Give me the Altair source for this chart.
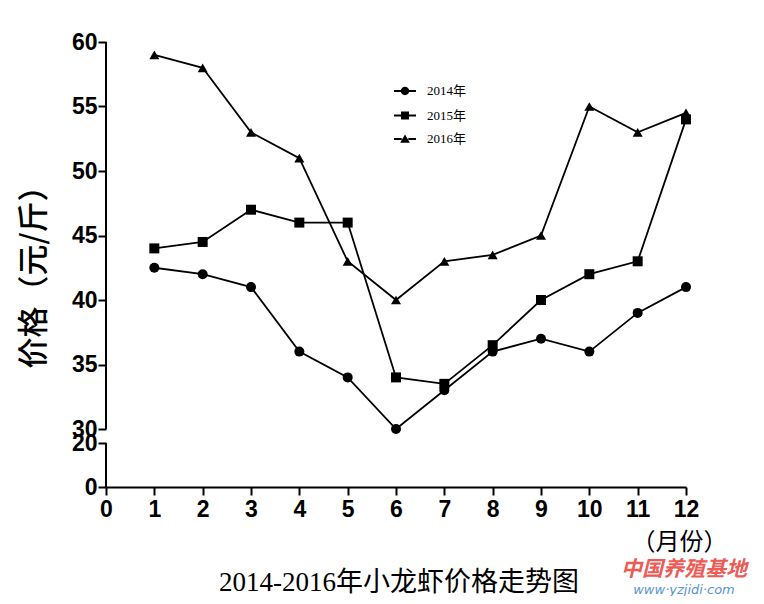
import altair as alt
import pandas as pd

months = list(range(1, 13))
years = ["2014年", "2015年", "2016年"]
price_2014 = [42.5, 42, 41, 36, 34, 30, 33, 36, 37, 36, 39, 41]
price_2015 = [44, 44.5, 47, 46, 46, 34, 33.5, 36.5, 40, 42, 43, 54]
price_2016 = [59, 58, 53, 51, 43, 40, 43, 43.5, 45, 55, 53, 54.5]
y_ticks = [0, 20, 30, 35, 40, 45, 50, 55, 60]
x_ticks = list(range(0, 13))
marker_shapes = ["circle", "square", "triangle-up"]

rows = []
for yr, vals in zip(years, [price_2014, price_2015, price_2016]):
    for m, v in zip(months, vals):
        rows.append({"month": m, "price": v, "year": yr})
df = pd.DataFrame(rows)

segs = pd.DataFrame({"lo": [30, 0], "hi": [60, 20]})

W, H = 580, 445
yscale = alt.Scale(domain=[0, 20, 30, 60], range=[H, H - 44, H - 58, 0], nice=False, zero=False)
xscale = alt.Scale(domain=[0, 12], nice=False, zero=False)

serif_cjk = "'Liberation Serif', 'Noto Sans CJK SC'"

xaxis = alt.Axis(
    values=x_ticks, title="（月份）", titleFont=serif_cjk, titleFontSize=24,
    titleFontWeight="normal", titleX=573, titleY=55, titleAlign="center",
    titleBaseline="middle", titleColor="black",
    labelFont="Liberation Sans", labelFontSize=23, labelFontWeight="bold",
    labelColor="black", labelPadding=3, labelFlush=False, labelOverlap=False,
    tickSize=8, tickWidth=2, tickColor="black", domainColor="black",
    domainWidth=2, grid=False,
)
yaxis = alt.Axis(
    values=y_ticks, title="价格（元/斤）", titleFont="Noto Sans CJK SC",
    titleFontSize=31, titleFontWeight=500, titleColor="black",
    titleX=-72, titleY=227, titleAngle=-90, titleAlign="center",
    titleBaseline="middle",
    labelFont="Liberation Sans", labelFontSize=23, labelFontWeight="bold",
    labelColor="black", labelPadding=1, labelFlush=False, labelOverlap=False,
    tickSize=8, tickWidth=2, tickColor="black", domain=False, grid=False,
)

base = alt.Chart(df)

lines = base.mark_line(color="black", strokeWidth=1.8).encode(
    x=alt.X("month:Q", scale=xscale, axis=xaxis),
    y=alt.Y("price:Q", scale=yscale, axis=yaxis),
    detail="year:N",
)

point_layers = []
for yr, shp in zip(years, marker_shapes):
    point_layers.append(
        base.transform_filter(alt.datum.year == yr)
        .mark_point(filled=True, opacity=1, color="black", size=100, shape=shp)
        .encode(x=alt.X("month:Q", scale=xscale), y=alt.Y("price:Q", scale=yscale))
    )

# legend glyphs: short line stubs either side of the marker (filled, so no stroke needed)
stubs = "M-1,-0.09H-0.3V0.09H-1ZM0.3,-0.09H1V0.09H0.3Z"
leg_shapes = [
    stubs + "M0.38,0A0.38,0.38,0,1,1,-0.38,0A0.38,0.38,0,1,1,0.38,0Z",
    stubs + "M-0.36,-0.36H0.36V0.36H-0.36Z",
    stubs + "M0,-0.42L0.44,0.34H-0.44Z",
]
legend_layer = base.mark_point(filled=True, opacity=1, color="black").encode(
    x=alt.X("month:Q", scale=xscale),
    y=alt.Y("price:Q", scale=yscale),
    shape=alt.Shape(
        "year:N",
        scale=alt.Scale(domain=years, range=leg_shapes),
        legend=alt.Legend(
            title=None, orient="none", legendX=287, legendY=37,
            symbolSize=484, symbolFillColor="black",
            labelFont=serif_cjk, labelFontSize=13,
            labelColor="black", labelOffset=10, rowPadding=4.5, padding=0,
        ),
    ),
).transform_filter("false")

axis_line = alt.Chart(segs).mark_rule(color="black", strokeWidth=2).encode(
    x=alt.value(0),
    y=alt.Y("lo:Q", scale=yscale),
    y2="hi:Q",
)

title_txt = alt.Chart(pd.DataFrame({"t": ["2014-2016年小龙虾价格走势图"]})).mark_text(
    font=serif_cjk, fontSize=27, color="black", baseline="middle", align="center"
).encode(text="t:N", x=alt.value(293), y=alt.value(541))

wm1 = alt.Chart(pd.DataFrame({"t": ["中国养殖基地"]})).mark_text(
    font="Noto Sans CJK SC", fontSize=21, fontWeight="bold", fontStyle="italic",
    color="#e8403a", baseline="middle", align="center", opacity=0.85,
).encode(text="t:N", x=alt.value(578), y=alt.value(528))

wm2 = alt.Chart(pd.DataFrame({"t": ["www·yzjidi·com"]})).mark_text(
    font="DejaVu Sans", fontSize=13, fontStyle="italic",
    color="#3b7fd0", baseline="middle", align="center", opacity=0.85,
).encode(text="t:N", x=alt.value(578), y=alt.value(548))

chart = alt.layer(axis_line, lines, *point_layers, legend_layer, title_txt, wm1, wm2).properties(
    width=W, height=H,
    autosize=alt.AutoSizeParams(type="none"),
    padding={"left": 98, "top": 34, "right": 70, "bottom": 109},
    background="white",
).configure_view(stroke=None)

chart.save("out.html", embed_options={"renderer": "svg", "actions": False})
